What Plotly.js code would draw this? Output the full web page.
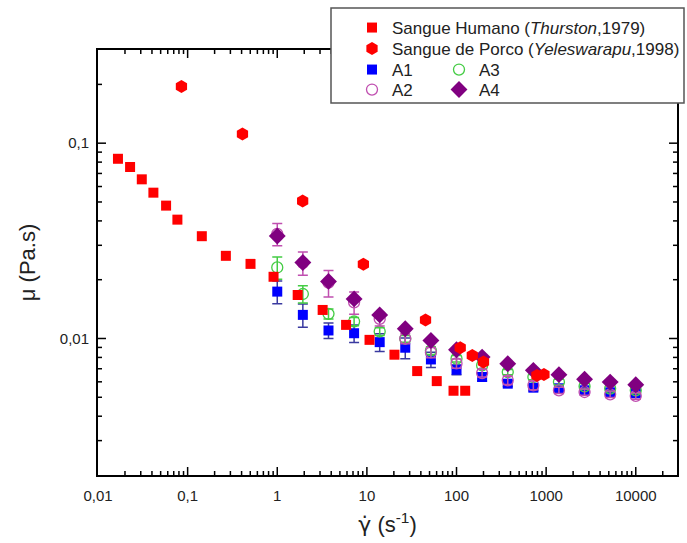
<!DOCTYPE html>
<html>
<head>
<meta charset="utf-8">
<script src="https://cdn.plot.ly/plotly-3.0.1.min.js"></script>
<style>html,body{margin:0;padding:0;background:#fff;}#chart{width:687px;height:543px;}</style>
</head>
<body>
<div id="chart"></div>
<script>
// Sangue Humano (Thurston, 1979)
const humanoX = [0.0167, 0.0228, 0.0308, 0.0415, 0.0575, 0.0769, 0.144, 0.267, 0.503, 0.909, 1.69, 3.21, 5.86, 10.7, 20.3, 36.4, 60.2, 92.6, 125];
const humanoY = [0.0832, 0.0755, 0.0653, 0.0558, 0.0479, 0.0406, 0.0334, 0.0265, 0.0241, 0.0207, 0.0167, 0.0140, 0.01174, 0.00984, 0.00826, 0.00681, 0.00605, 0.0054, 0.0054];
// Sangue de Porco (Yeleswarapu, 1998)
const porcoX = [0.0853, 0.409, 1.92, 9.14, 45.1, 110, 150, 200, 789, 945];
const porcoY = [0.195, 0.1115, 0.0506, 0.0240, 0.01245, 0.00897, 0.00819, 0.00757, 0.00647, 0.00655];
// Shear rates for samples A1-A4
const shearX = [1, 1.93, 3.73, 7.2, 13.9, 26.8, 51.8, 100, 193, 373, 720, 1389, 2683, 5179, 10000];
const a1Y = [0.01738, 0.01321, 0.01099, 0.01064, 0.00958, 0.00897, 0.00781, 0.00692, 0.00635, 0.00587, 0.0056, 0.00556, 0.00543, 0.0053, 0.00524];
const a1Err = [0.0023, 0.0018, 0.001, 0.0011, 0.001, 0.0011, 0.0007, 0.0004, 0.0003, 0.0002, 0.0002, 0.0002, 0.0002, 0.0002, 0.0002];
const a2Y = [0.0343, 0.0244, 0.0193, 0.01531, 0.0126, 0.0100, 0.00848, 0.00745, 0.00665, 0.00611, 0.00576, 0.00543, 0.00532, 0.00518, 0.00508];
const a2Err = [0.0045, 0.0033, 0.003, 0.002, 0.001, 0.0006, 0.0005, 0.0004, 0.0003, 0.0003, 0.0003, 0.0002, 0.0002, 0.0002, 0.0002];
const a3Y = [0.0231, 0.0169, 0.01337, 0.01222, 0.01086, 0.00997, 0.00868, 0.00788, 0.00728, 0.00673, 0.00635, 0.00598, 0.00569, 0.00554, 0.00543];
const a3Err = [0.003, 0.0017, 0.0008, 0.0006, 0.0005, 0.0004, 0.0004, 0.0003, 0.0003, 0.0002, 0.0002, 0.0002, 0.0002, 0.0002, 0.0002];
const a4Y = [0.0335, 0.0245, 0.0196, 0.01595, 0.01321, 0.01121, 0.00977, 0.00876, 0.00803, 0.00743, 0.00687, 0.00653, 0.00618, 0.00598, 0.0058];
// Tick labels
const xTickVals = [0.01, 0.1, 1, 10, 100, 1000, 10000];
const xTickText = ['0,01', '0,1', '1', '10', '100', '1000', '10000'];
const yTickVals = [0.01, 0.1];
const yTickText = ['0,01', '0,1'];

const FONT = 'Arial, "Liberation Sans", sans-serif';
const X_RANGE = [-2, 4.46];
const Y_RANGE = [Math.log10(0.002), Math.log10(0.3)];
const PLOT_W = 687 - 98 - 10;
const PLOT_H = 543 - 50 - 68;

// Tick marks (inside, all four sides) built from the tick values as one line trace
function minorVals(fromExp, toExp) {
  const v = [];
  for (let e = fromExp; e <= toExp; e++) for (let m = 2; m <= 9; m++) v.push(m * Math.pow(10, e));
  return v;
}
function buildTicks() {
  const xs = [], ys = [];
  const pxX = (X_RANGE[1] - X_RANGE[0]) / PLOT_W; // log units per pixel
  const pxY = (Y_RANGE[1] - Y_RANGE[0]) / PLOT_H;
  const yLo = Math.pow(10, Y_RANGE[0]), yHi = Math.pow(10, Y_RANGE[1]);
  const xLo = Math.pow(10, X_RANGE[0]), xHi = Math.pow(10, X_RANGE[1]);
  function xt(v, len) {
    const lv = Math.log10(v);
    if (lv <= X_RANGE[0] + 1e-6 || lv >= X_RANGE[1] - 1e-6) return;
    xs.push(v, v, null, v, v, null);
    ys.push(yLo, Math.pow(10, Y_RANGE[0] + len * pxY), null, yHi, Math.pow(10, Y_RANGE[1] - len * pxY), null);
  }
  function yt(v, len) {
    const lv = Math.log10(v);
    if (lv <= Y_RANGE[0] + 1e-6 || lv >= Y_RANGE[1] - 1e-6) return;
    ys.push(v, v, null, v, v, null);
    xs.push(xLo, Math.pow(10, X_RANGE[0] + len * pxX), null, xHi, Math.pow(10, X_RANGE[1] - len * pxX), null);
  }
  xTickVals.forEach(function (v) { xt(v, 8); });
  minorVals(-2, 4).forEach(function (v) { xt(v, 4); });
  yTickVals.forEach(function (v) { yt(v, 8); });
  minorVals(-3, -1).forEach(function (v) { yt(v, 4); });
  return {xs: xs, ys: ys};
}
const tk = buildTicks();

const traces = [
  {x: tk.xs, y: tk.ys, type: 'scatter', mode: 'lines', line: {color: '#000', width: 1.5},
   showlegend: false, hoverinfo: 'skip', connectgaps: false},
  {x: shearX, y: a1Y, name: 'A1', type: 'scatter', mode: 'markers', legend: 'legend3', legendrank: 1,
   marker: {symbol: 'square', size: 10, color: '#0000ff'},
   error_y: {type: 'data', array: a1Err, visible: true, color: '#3a3aa0', thickness: 1.5, width: 5}},
  {x: shearX, y: a3Y, name: 'A3', type: 'scatter', mode: 'markers', legend: 'legend3', legendrank: 2,
   marker: {symbol: 'circle-open', size: 11, color: '#44cc44', line: {width: 1.3, color: '#44cc44'}},
   error_y: {type: 'data', array: a3Err, visible: true, color: '#44cc44', thickness: 1.5, width: 5}},
  {x: shearX, y: a2Y, name: 'A2', type: 'scatter', mode: 'markers', legend: 'legend4', legendrank: 1,
   marker: {symbol: 'circle-open', size: 11, color: '#c04fb0', line: {width: 1.3, color: '#c04fb0'}},
   error_y: {type: 'data', array: a2Err, visible: true, color: '#c04fb0', thickness: 1.5, width: 5}},
  {x: shearX, y: a4Y, name: 'A4', type: 'scatter', mode: 'markers', legend: 'legend4', legendrank: 2,
   marker: {symbol: 'diamond', size: 13, color: '#800080'}},
  {x: humanoX, y: humanoY, name: 'Sangue Humano (<i>Thurston</i>,1979)', type: 'scatter', mode: 'markers',
   legend: 'legend',
   marker: {symbol: 'square', size: 10, color: '#ff0000'}},
  {x: porcoX, y: porcoY, name: 'Sangue de Porco (<i>Yeleswarapu</i>,1998)', type: 'scatter', mode: 'markers',
   legend: 'legend2',
   marker: {symbol: 'hexagon', size: 13, color: '#ff0000'}}
];

const axisCommon = {
  type: 'log',
  showgrid: false, zeroline: false,
  showline: true, linecolor: '#000', linewidth: 2, mirror: true,
  ticks: '', tickangle: 0, automargin: false, tickmode: 'array',
  tickfont: {family: FONT, size: 15, color: '#222'}
};

function legendAt(px, py, horizontal) {
  return {
    xref: 'container', yref: 'container', x: px / 687, y: 1 - py / 543, xanchor: 'left', yanchor: 'middle',
    orientation: horizontal ? 'h' : 'v', entrywidth: horizontal ? 42 : undefined, entrywidthmode: 'pixels',
    bgcolor: 'rgba(0,0,0,0)', borderwidth: 0, traceorder: 'normal',
    font: {family: FONT, size: 17, color: '#222'}
  };
}

const layout = {
  width: 687, height: 543,
  margin: {l: 98, r: 10, t: 50, b: 68, autoexpand: false},
  paper_bgcolor: '#fff', plot_bgcolor: '#fff',
  font: {family: FONT, color: '#222'},
  showlegend: true,
  xaxis: Object.assign({}, axisCommon, {
    range: X_RANGE,
    tickvals: xTickVals, ticktext: xTickText, ticklabelstandoff: 6,
    title: {text: '<span style="font-family:\'DejaVu Sans\'">γ̇</span> (s<sup>-1</sup>)', font: {family: FONT, size: 22, color: '#222'}, standoff: 14}
  }),
  yaxis: Object.assign({}, axisCommon, {
    range: Y_RANGE,
    tickvals: yTickVals, ticktext: yTickText, ticklabelstandoff: 4,
    title: {text: 'μ (Pa.s)', font: {family: FONT, size: 22, color: '#222'}, standoff: 18}
  }),
  legend: legendAt(352, 28, false),
  legend2: legendAt(352, 49, false),
  legend3: legendAt(352, 70, true),
  legend4: legendAt(352, 90, true),
  shapes: [{
    type: 'rect', xref: 'paper', yref: 'paper', layer: 'above',
    x0: (331 - 98) / 579, x1: (684 - 98) / 579,
    y0: (475 - 103) / 425, y1: (475 - 8) / 425,
    fillcolor: '#fff', line: {color: '#555', width: 1.5}
  }]
};

Plotly.newPlot('chart', traces, layout, {displayModeBar: false});
</script>
</body>
</html>
